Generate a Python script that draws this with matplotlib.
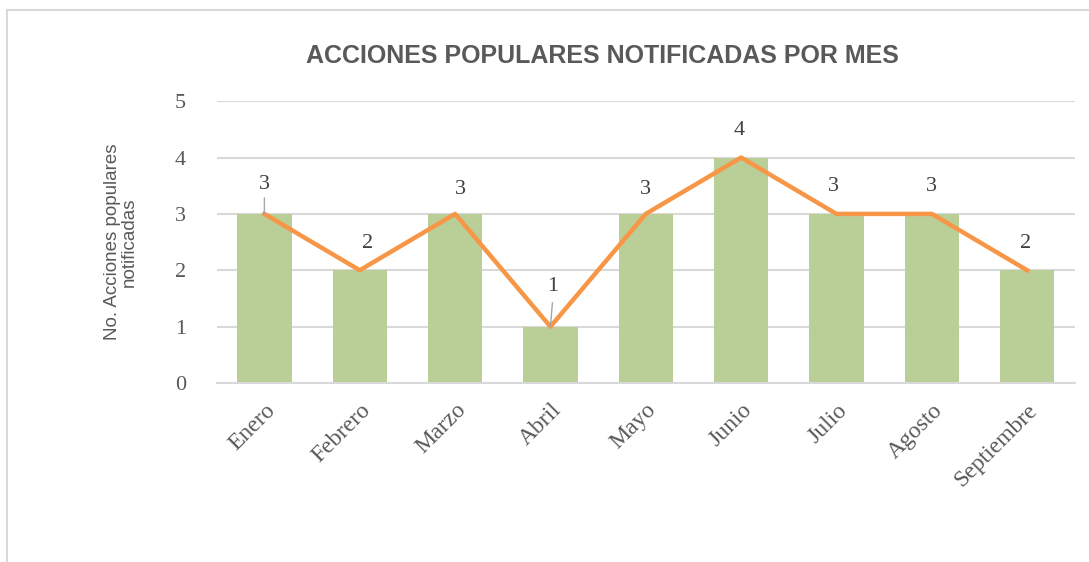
import numpy as np
import matplotlib
matplotlib.use('Agg')
import matplotlib.pyplot as plt
from matplotlib.lines import Line2D

# datos
meses = ['Enero', 'Febrero', 'Marzo', 'Abril', 'Mayo', 'Junio', 'Julio', 'Agosto', 'Septiembre']
acciones = [3, 2, 3, 1, 3, 4, 3, 3, 2]
y_ticks = [0, 1, 2, 3, 4, 5]

gris = '#595959'
verde = '#BACE97'
naranja = '#F79646'

fig = plt.figure(figsize=(10.89, 5.62), dpi=100)
ax = fig.add_axes([0.199, 0.3185, 0.788, 0.5015])

x = np.arange(len(meses))
ax.bar(x, acciones, width=0.57, color=verde, zorder=2)
ax.plot(x, acciones, color=naranja, lw=3.2, zorder=3, solid_joinstyle='round')

# etiquetas de datos (desplazamientos en pixeles)
dx = [0, 8, 5, 2, 0, -2, -3, 0, -2]
dy = [29, 27, 24, 40, 24, 27, 27, 27, 27]
for i, v in enumerate(acciones):
    ax.annotate(str(v), (x[i], v), xytext=(dx[i], dy[i]), textcoords='offset pixels',
                ha='center', va='center', fontsize=16, color='#404040',
                family='Liberation Serif', zorder=4)
# lineas guia
ax.annotate('', (x[0], acciones[0]), xytext=(0, 16), textcoords='offset pixels',
            arrowprops=dict(arrowstyle='-', color='#A6A6A6', lw=1, shrinkA=0, shrinkB=0))
ax.annotate('', (x[3], acciones[3]), xytext=(2, 24), textcoords='offset pixels',
            arrowprops=dict(arrowstyle='-', color='#A6A6A6', lw=1, shrinkA=0, shrinkB=0))

ax.set_xlim(-0.5, len(meses) - 0.5)
ax.set_ylim(0, 5)
ax.set_yticks(y_ticks)
ax.set_yticklabels([str(t) for t in y_ticks], family='Liberation Serif', fontsize=16, color=gris)
ax.set_xticks(x)
ax.set_xticklabels(meses, rotation=45, ha='right', rotation_mode='anchor',
                   family='Liberation Serif', fontsize=17, color=gris)
ax.tick_params(axis='both', length=0)
ax.tick_params(axis='y', pad=22)
ax.tick_params(axis='x', pad=12)
ax.yaxis.grid(True, color='#D9D9D9', lw=1.5, zorder=0)
ax.set_axisbelow(True)
for s in ['top', 'right', 'left']:
    ax.spines[s].set_visible(False)
ax.spines['bottom'].set_color('#D9D9D9')
ax.spines['bottom'].set_linewidth(1.5)

ax.set_ylabel('No. Acciones populares\nnotificadas', family='Liberation Sans', fontsize=13.5,
              color=gris, labelpad=27, linespacing=1.0)

fig.text(0.553, 0.900, 'ACCIONES POPULARES NOTIFICADAS POR MES', ha='center', va='center',
         family='Liberation Sans', fontsize=18, fontweight='bold', color=gris)

# marco del grafico
fig.add_artist(Line2D([7 / 1089, 7 / 1089], [0, 1 - 10 / 562], transform=fig.transFigure,
                      color='#D9D9D9', lw=1.5))
fig.add_artist(Line2D([7 / 1089, 1], [1 - 10 / 562, 1 - 10 / 562], transform=fig.transFigure,
                      color='#D9D9D9', lw=1.5))

fig.savefig('out.png', dpi=100, facecolor='white')
